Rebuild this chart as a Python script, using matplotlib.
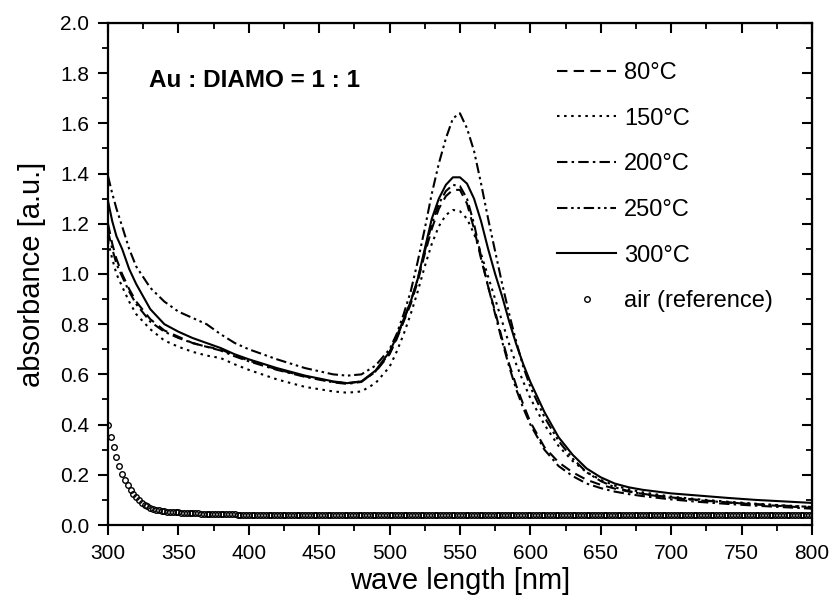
import numpy as np
import matplotlib
matplotlib.use("Agg")
import matplotlib.pyplot as plt
from matplotlib.ticker import MultipleLocator, FormatStrFormatter

plt.rcParams['font.family'] = ['Liberation Sans', 'DejaVu Sans']

# Shared wavelength grid (nm) for the annealed-film spectra
wavelength = [300, 303, 306, 310, 315, 320, 330, 340, 350, 360, 370, 380, 390, 400,
              420, 440, 460, 470, 480, 490, 500, 505, 510, 515, 520, 525, 530, 535,
              540, 545, 550, 555, 560, 565, 570, 575, 580, 585, 590, 595, 600, 610,
              620, 630, 640, 650, 660, 670, 680, 700, 720, 740, 760, 780, 800]

abs_80 = [1.20, 1.12, 1.06, 1.00, 0.94, 0.89, 0.82, 0.775, 0.75, 0.725, 0.71, 0.70, 0.675, 0.655,
          0.62, 0.592, 0.57, 0.565, 0.572, 0.61, 0.68, 0.74, 0.81, 0.88, 0.97, 1.08, 1.18, 1.26,
          1.31, 1.335, 1.335, 1.28, 1.18, 1.06, 0.95, 0.85, 0.74, 0.64, 0.555, 0.48, 0.41, 0.31,
          0.25, 0.21, 0.18, 0.16, 0.145, 0.133, 0.124, 0.11, 0.10, 0.09, 0.082, 0.075, 0.068]

abs_150 = [1.13, 1.06, 1.00, 0.95, 0.89, 0.84, 0.78, 0.735, 0.71, 0.69, 0.675, 0.665, 0.64, 0.618,
           0.58, 0.55, 0.532, 0.527, 0.532, 0.565, 0.63, 0.69, 0.76, 0.84, 0.93, 1.03, 1.12, 1.19,
           1.235, 1.255, 1.25, 1.22, 1.16, 1.08, 0.99, 0.90, 0.81, 0.72, 0.64, 0.57, 0.505, 0.40,
           0.315, 0.255, 0.21, 0.18, 0.157, 0.142, 0.13, 0.113, 0.102, 0.093, 0.085, 0.078, 0.072]

abs_200 = [1.17, 1.10, 1.04, 0.99, 0.93, 0.88, 0.81, 0.77, 0.745, 0.725, 0.71, 0.695, 0.672, 0.652,
           0.618, 0.59, 0.568, 0.562, 0.57, 0.612, 0.685, 0.745, 0.815, 0.89, 0.98, 1.09, 1.20, 1.28,
           1.33, 1.355, 1.35, 1.30, 1.20, 1.07, 0.95, 0.84, 0.73, 0.63, 0.54, 0.465, 0.40, 0.30,
           0.235, 0.195, 0.165, 0.147, 0.133, 0.123, 0.115, 0.102, 0.092, 0.084, 0.077, 0.071, 0.065]

abs_250 = [1.39, 1.32, 1.26, 1.19, 1.10, 1.03, 0.945, 0.89, 0.85, 0.825, 0.80, 0.76, 0.725, 0.70,
           0.66, 0.625, 0.60, 0.595, 0.60, 0.635, 0.70, 0.76, 0.84, 0.93, 1.05, 1.18, 1.32, 1.44,
           1.54, 1.62, 1.64, 1.58, 1.49, 1.36, 1.22, 1.09, 0.96, 0.84, 0.73, 0.63, 0.55, 0.43,
           0.335, 0.265, 0.21, 0.175, 0.15, 0.135, 0.123, 0.108, 0.098, 0.09, 0.083, 0.077, 0.072]

abs_300 = [1.29, 1.21, 1.15, 1.10, 1.02, 0.96, 0.86, 0.80, 0.77, 0.745, 0.725, 0.705, 0.68, 0.66,
           0.625, 0.595, 0.572, 0.565, 0.572, 0.615, 0.69, 0.75, 0.82, 0.89, 0.98, 1.10, 1.22, 1.30,
           1.355, 1.385, 1.385, 1.36, 1.30, 1.21, 1.10, 1.00, 0.91, 0.81, 0.72, 0.64, 0.57, 0.45,
           0.35, 0.28, 0.225, 0.19, 0.165, 0.15, 0.14, 0.126, 0.117, 0.108, 0.10, 0.094, 0.088]

# Bare-substrate (air) reference, sampled every 2 nm from 300 to 800 nm
air_wavelength = np.arange(300, 801, 2)
air_abs = [
    0.400, 0.350, 0.310, 0.270, 0.235, 0.205, 0.180, 0.160, 0.140, 0.125,
    0.110, 0.099, 0.089, 0.081, 0.075, 0.069, 0.065, 0.061, 0.058, 0.056,
    0.054, 0.053, 0.052, 0.051, 0.050, 0.050, 0.049, 0.048, 0.048, 0.047,
    0.047, 0.046, 0.046, 0.045, 0.045, 0.045, 0.044, 0.044, 0.044, 0.043,
    0.043, 0.043, 0.042, 0.042, 0.042, 0.042, 0.041, 0.041, 0.041, 0.041,
    0.041, 0.040, 0.040, 0.040, 0.040, 0.040, 0.040, 0.039, 0.039, 0.039,
    0.039, 0.039, 0.039, 0.039, 0.039, 0.039, 0.039, 0.039, 0.038, 0.038,
    0.038, 0.038, 0.038, 0.038, 0.038, 0.038, 0.038, 0.038, 0.038, 0.038,
    0.038, 0.038, 0.038, 0.038, 0.038, 0.038, 0.038, 0.038, 0.038, 0.038,
    0.038, 0.038, 0.038, 0.038, 0.038, 0.038, 0.038, 0.038, 0.038, 0.038,
    0.038, 0.038, 0.038, 0.038, 0.038, 0.038, 0.038, 0.038, 0.038, 0.038,
    0.038, 0.038, 0.038, 0.038, 0.038, 0.038, 0.038, 0.038, 0.038, 0.038,
    0.038, 0.038, 0.038, 0.038, 0.038, 0.038, 0.038, 0.038, 0.038, 0.038,
    0.038, 0.038, 0.038, 0.038, 0.038, 0.038, 0.038, 0.038, 0.038, 0.038,
    0.038, 0.038, 0.038, 0.038, 0.038, 0.038, 0.038, 0.038, 0.038, 0.038,
    0.038, 0.038, 0.038, 0.038, 0.038, 0.038, 0.038, 0.038, 0.038, 0.038,
    0.038, 0.038, 0.038, 0.038, 0.038, 0.038, 0.038, 0.038, 0.038, 0.038,
    0.038, 0.038, 0.038, 0.038, 0.038, 0.038, 0.038, 0.038, 0.038, 0.038,
    0.039, 0.039, 0.039, 0.039, 0.039, 0.039, 0.039, 0.039, 0.039, 0.039,
    0.039, 0.039, 0.039, 0.039, 0.039, 0.039, 0.039, 0.039, 0.039, 0.039,
    0.039, 0.039, 0.039, 0.039, 0.039, 0.039, 0.039, 0.039, 0.039, 0.039,
    0.039, 0.039, 0.039, 0.039, 0.040, 0.040, 0.040, 0.040, 0.040, 0.040,
    0.040, 0.040, 0.040, 0.040, 0.040, 0.040, 0.040, 0.040, 0.040, 0.040,
    0.040, 0.040, 0.040, 0.040, 0.040, 0.040, 0.040, 0.040, 0.040, 0.040,
    0.040, 0.040, 0.040, 0.040, 0.040, 0.040, 0.040, 0.040, 0.040, 0.040,
    0.040,
]

series = [
    ("80°C", abs_80, (0, (5, 3))),
    ("150°C", abs_150, (0, (1.2, 2.2))),
    ("200°C", abs_200, (0, (5, 2, 1.2, 2))),
    ("250°C", abs_250, (0, (5, 1.8, 1.2, 1.8, 1.2, 1.8))),
    ("300°C", abs_300, "-"),
]

fig = plt.figure(figsize=(8.31, 5.97), dpi=100)
ax = fig.add_axes([0.130, 0.1206, 0.847, 0.841])

for label, values, style in series:
    ax.plot(wavelength, values, color="black", linestyle=style, linewidth=1.5, label=label)

ax.plot(air_wavelength, air_abs, linestyle="none", marker="o", markersize=4.0,
        markerfacecolor="none", markeredgecolor="black", markeredgewidth=1.0,
        label="air (reference)")

ax.set_xlim(300, 800)
ax.set_ylim(0.0, 2.0)
ax.xaxis.set_major_locator(MultipleLocator(50))
ax.xaxis.set_minor_locator(MultipleLocator(25))
ax.yaxis.set_major_locator(MultipleLocator(0.2))
ax.yaxis.set_minor_locator(MultipleLocator(0.1))
ax.yaxis.set_major_formatter(FormatStrFormatter("%.1f"))

for side in ax.spines.values():
    side.set_linewidth(1.6)

ax.tick_params(which="major", direction="out", length=7.5, width=1.5, labelsize=15, pad=6)
ax.tick_params(which="minor", direction="out", length=4.5, width=1.3)

# Mirrored axes on top and right with inward ticks
top = ax.secondary_xaxis("top")
top.xaxis.set_major_locator(MultipleLocator(50))
top.xaxis.set_minor_locator(MultipleLocator(25))
top.tick_params(which="major", direction="in", length=7.5, width=1.5, labeltop=False)
top.tick_params(which="minor", direction="in", length=4.5, width=1.3)
right = ax.secondary_yaxis("right")
right.yaxis.set_major_locator(MultipleLocator(0.2))
right.yaxis.set_minor_locator(MultipleLocator(0.1))
right.tick_params(which="major", direction="in", length=7.5, width=1.5, labelright=False)
right.tick_params(which="minor", direction="in", length=4.5, width=1.3)

ax.set_xlabel("wave length [nm]", fontsize=21, labelpad=3)
ax.set_ylabel("absorbance [a.u.]", fontsize=21, labelpad=10)

ax.text(0.058, 0.885, "Au : DIAMO = 1 : 1", transform=ax.transAxes,
        fontsize=17.5, fontweight="bold", va="center", ha="left")

ax.legend(loc="upper left", bbox_to_anchor=(0.638, 0.922), frameon=False,
          fontsize=17, handlelength=2.5, handletextpad=0.34, labelspacing=1.0,
          borderpad=0, borderaxespad=0, numpoints=1)

fig.savefig("out.png", dpi=100)
